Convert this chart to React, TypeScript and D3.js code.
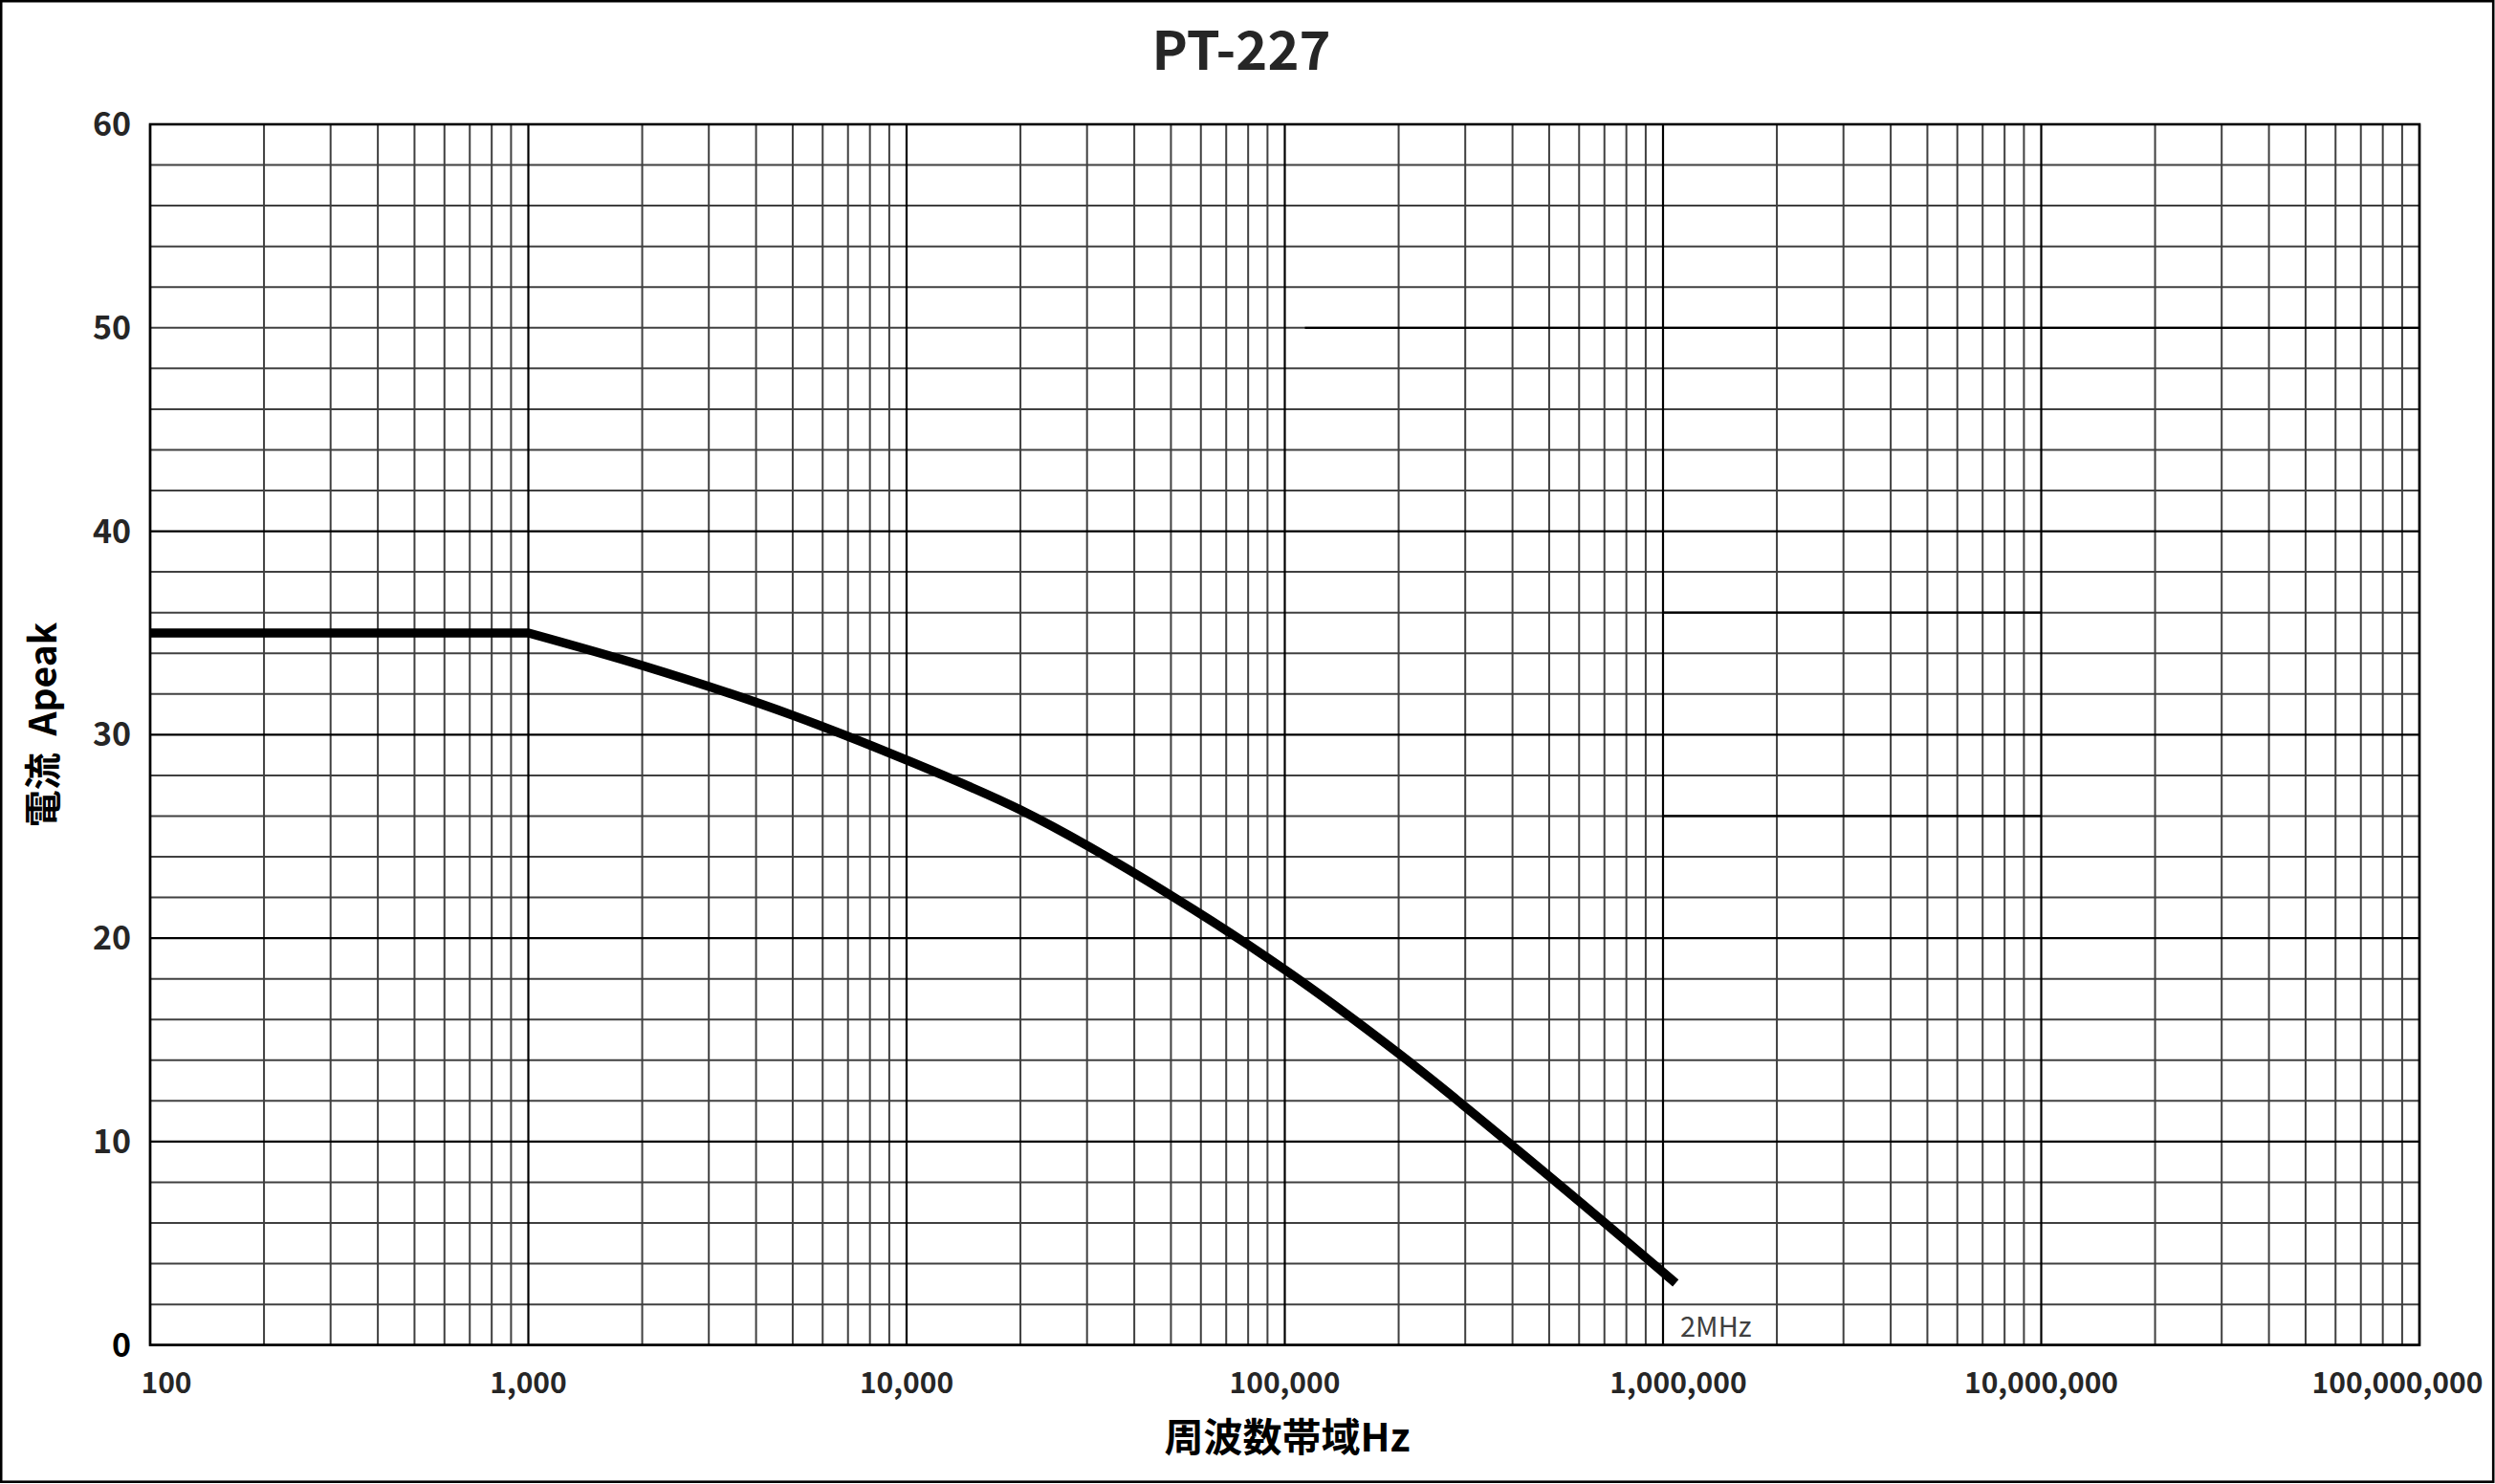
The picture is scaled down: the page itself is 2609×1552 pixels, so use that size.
import React from "react";
import * as d3 from "d3";

const WIDTH = 2609;
const HEIGHT = 1552;

const TITLE = "PT-227";
const X_TITLE = "周波数帯域Hz";
const Y_TITLE = "電流  Apeak";
const NOTE = "2MHz";

const FLAT_FREQS = [100, 1000];
const FLAT_CURRENT = [35, 35];
const FREQS = [1000, 2000, 5000, 10000, 20000, 50000, 100000, 200000, 500000, 1080000];
const CURRENT = [35, 33.4, 30.95, 28.75, 26.3, 22.1, 18.45, 14.33, 8.3, 3.05];

const X_TICKS = [100, 1000, 10000, 100000, 1000000, 10000000, 100000000];
const Y_TICKS = [0, 10, 20, 30, 40, 50, 60];
const Y_GRID = d3.range(0, 61, 2);
const Y_MAJOR = [0, 10, 20, 30, 40, 60];
// darker segments seen on the original grid
const DARK_SEGMENTS = [
  { v: 50, from: 113000, to: 100000000 },
  { v: 36, from: 1000000, to: 10000000 },
  { v: 26, from: 1000000, to: 10000000 },
];

const FONT = "'Noto Sans CJK JP', 'Noto Sans CJK SC', 'Noto Sans', sans-serif";

export default function App() {
  const left = 157, right = 2530, top = 130, bottom = 1406.7;
  const x = d3.scaleLog().domain([100, 100000000]).range([left, right]);
  const y = d3.scaleLinear().domain([0, 60]).range([bottom, top]);

  const xGrid: { v: number; major: boolean }[] = [];
  for (let d = 100; d < 100000000; d *= 10) {
    for (let m = 1; m <= 9; m++) xGrid.push({ v: d * m, major: m === 1 });
  }
  xGrid.push({ v: 100000000, major: true });

  const flatPts: [number, number][] = FLAT_FREQS.map((f, i) => [f, FLAT_CURRENT[i]]);
  const pts: [number, number][] = FREQS.map((f, i) => [f, CURRENT[i]]);
  const linear = d3
    .line<[number, number]>()
    .x((d) => x(d[0]))
    .y((d) => y(d[1]))
    .curve(d3.curveLinear);
  const smooth = d3
    .line<[number, number]>()
    .x((d) => x(d[0]))
    .y((d) => y(d[1]))
    .curve(d3.curveMonotoneX);
  const flatD = linear(flatPts) || "";
  const curveD = (smooth(pts) || "").replace(/^M[^LC]*/, "");
  const pathD = flatD + curveD;

  const fmt = d3.format(",");
  const grey = "#404040";

  return (
    <svg
      width={WIDTH}
      height={HEIGHT}
      style={{ position: "absolute", left: 0, top: 0, background: "#fff" }}
    >
      <rect x={0} y={0} width={WIDTH} height={HEIGHT} fill="#fff" />
      <rect x={1.2} y={1.2} width={2606} height={1548.5} fill="none" stroke="#000" strokeWidth={2.6} />

      {/* minor horizontal grid */}
      {Y_GRID.filter((v) => !Y_MAJOR.includes(v)).map((v) => (
        <line key={"hy" + v} x1={left} x2={right} y1={y(v)} y2={y(v)} stroke={grey} strokeWidth={2} />
      ))}
      {/* minor vertical grid */}
      {xGrid.filter((g) => !g.major).map((g) => (
        <line key={"vx" + g.v} x1={x(g.v)} x2={x(g.v)} y1={top} y2={bottom} stroke={grey} strokeWidth={2} />
      ))}
      {/* major horizontal */}
      {Y_MAJOR.map((v) => (
        <line key={"my" + v} x1={left} x2={right} y1={y(v)} y2={y(v)} stroke="#000" strokeWidth={2.2} />
      ))}
      {DARK_SEGMENTS.map((s, i) => (
        <line key={"ds" + i} x1={x(s.from)} x2={x(s.to)} y1={y(s.v)} y2={y(s.v)} stroke="#000" strokeWidth={2.2} />
      ))}
      {/* major vertical */}
      {xGrid.filter((g) => g.major).map((g) => (
        <line key={"mx" + g.v} x1={x(g.v)} x2={x(g.v)} y1={top} y2={bottom} stroke="#000" strokeWidth={2.2} />
      ))}
      <rect x={left} y={top} width={right - left} height={bottom - top} fill="none" stroke="#000" strokeWidth={2.6} />

      {/* data line */}
      <path d={pathD} fill="none" stroke="#000" strokeWidth={9.5} strokeLinejoin="round" strokeLinecap="butt" />

      {/* title */}
      <text x={1298} y={72.5} textAnchor="middle" fontFamily={FONT} fontWeight="bold" fontSize={56} fill="#262626">
        {TITLE}
      </text>

      {/* y ticks */}
      {Y_TICKS.map((v) => (
        <text key={"yt" + v} x={137} y={y(v) + 12} textAnchor="end" fontFamily={FONT} fontWeight="bold" fontSize={34} fill={v === 0 ? "#000" : "#262626"}>
          {String(v)}
        </text>
      ))}

      {/* x ticks */}
      {X_TICKS.map((v, i) => {
        const nudge = i === 0 ? 17 : i === X_TICKS.length - 1 ? -23 : i === 4 ? 16 : 0;
        return (
          <text key={"xt" + v} x={x(v) + nudge} y={1457} textAnchor="middle" fontFamily={FONT} fontWeight="bold" fontSize={30} fill="#262626">
            {fmt(v)}
          </text>
        );
      })}

      {/* note */}
      <text x={1757} y={1398} fontFamily={FONT} fontSize={29} fill={grey}>
        {NOTE}
      </text>

      {/* axis titles */}
      <text x={1346} y={1518} textAnchor="middle" fontFamily={FONT} fontWeight="bold" fontSize={41} fill="#000">
        {X_TITLE}
      </text>
      <text
        transform={`translate(59, 758) rotate(-90)`}
        textAnchor="middle"
        fontFamily={FONT}
        fontWeight="bold"
        fontSize={39}
        fill="#000"
        style={{ whiteSpace: "pre" }}
      >
        {Y_TITLE}
      </text>
    </svg>
  );
}
